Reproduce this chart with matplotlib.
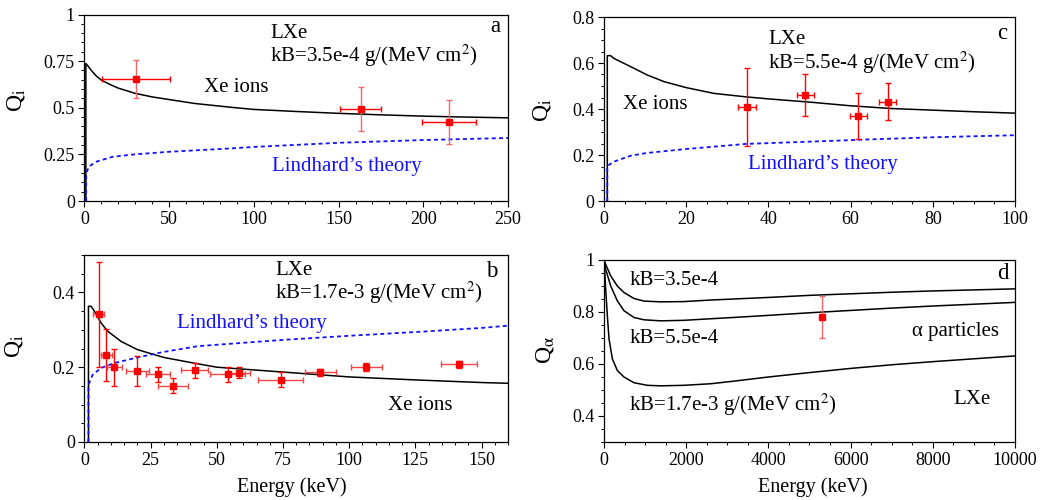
import matplotlib
matplotlib.use('Agg')
import matplotlib.pyplot as plt
from matplotlib.ticker import MultipleLocator

plt.rcParams['font.family'] = ['Liberation Serif', 'DejaVu Serif']
plt.rcParams['mathtext.fontset'] = 'stix'

# --- panel a: kB = 3.5e-4, 0-250 keV ---
a_ion_E = [0.8, 0.8, 2, 3, 5, 7, 10, 15, 20, 30, 40, 50, 65, 87, 100, 125, 150, 175, 200, 225, 250]
a_ion_Q = [0, 0.737, 0.725, 0.712, 0.69, 0.67, 0.648, 0.625, 0.605, 0.577, 0.558, 0.544, 0.523,
           0.502, 0.491, 0.48, 0.47, 0.462, 0.455, 0.45, 0.446]
a_lin_E = [1.0, 1.0, 2.6, 6.6, 16.6, 29.6, 50, 86.6, 100, 150, 200, 250]
a_lin_Q = [0, 0.148, 0.184, 0.21, 0.237, 0.25, 0.264, 0.282, 0.29, 0.312, 0.327, 0.338]
a_pts_E = [30.3, 163, 215]
a_pts_Q = [0.654, 0.493, 0.423]
a_pts_dE = [20, 12, 16]
a_pts_dQ = [0.1, 0.12, 0.12]

# --- panel c: kB = 5.5e-4, 0-100 keV ---
c_ion_E = [0.8, 0.8, 1.6, 2.4, 6.5, 10.5, 14.6, 20, 26.7, 34.4, 40, 50, 60, 70, 80, 90, 100]
c_ion_Q = [0, 0.632, 0.632, 0.62, 0.584, 0.548, 0.519, 0.493, 0.468, 0.453, 0.444, 0.43,
           0.414, 0.402, 0.395, 0.388, 0.382]
c_lin_E = [0.8, 0.8, 2.4, 6.5, 10.5, 20, 34.4, 50, 65, 80, 100]
c_lin_Q = [0, 0.152, 0.171, 0.197, 0.209, 0.226, 0.248, 0.258, 0.268, 0.277, 0.286]
c_pts_E = [34.8, 49, 61.9, 69]
c_pts_Q = [0.409, 0.46, 0.37, 0.431]
c_pts_dE = [2.2, 2.1, 2.0, 2.1]
c_pts_dQ = [0.17, 0.09, 0.1, 0.08]

# --- panel b: kB = 1.7e-3, 0-160 keV ---
b_ion_E = [1.5, 1.5, 2.5, 3.8, 6.3, 8.8, 13.8, 20, 30, 41.3, 50, 75, 100, 125, 150, 160]
b_ion_Q = [0, 0.363, 0.363, 0.349, 0.318, 0.296, 0.269, 0.247, 0.226, 0.211, 0.2, 0.187,
           0.174, 0.166, 0.159, 0.157]
b_lin_E = [1.5, 1.5, 3.1, 6.3, 11.3, 20, 30, 42.6, 50, 75, 100, 125, 150, 160]
b_lin_Q = [0, 0.153, 0.18, 0.198, 0.211, 0.226, 0.241, 0.256, 0.26, 0.273, 0.284, 0.294, 0.305, 0.311]
b_pts_E = [5.4, 8.3, 11.3, 20, 27.9, 33.5, 41.6, 54.2, 58.3, 74.1, 89.1, 106.4, 141.5]
b_pts_Q = [0.341, 0.232, 0.2, 0.19, 0.181, 0.15, 0.192, 0.181, 0.185, 0.166, 0.186, 0.201, 0.208]
b_pts_dE = [2, 2, 2.9, 4.2, 4.5, 5.6, 5, 6.6, 4.4, 8.6, 5.8, 5.9, 6.9]
b_pts_dQ = [0.14, 0.07, 0.05, 0.04, 0.02, 0.02, 0.02, 0.02, 0.015, 0.02, 0.01, 0.01, 0.009]

# --- panel d: alpha particles, three kB values ---
d_k1_E = [0, 41, 163, 324, 486, 729, 972, 1377, 1943, 2592, 3158, 4000, 5000, 6000, 7000, 8000, 9000, 10000]
d_k1_Q = [1.0, 0.983, 0.939, 0.9, 0.875, 0.852, 0.842, 0.839, 0.84, 0.846, 0.85, 0.856, 0.864,
          0.87, 0.876, 0.881, 0.885, 0.889]
d_k2_E = [0, 41, 163, 324, 486, 729, 972, 1377, 1943, 2592, 3158, 4000, 5000, 6000, 7000, 8000, 9000, 10000]
d_k2_Q = [1.0, 0.964, 0.9, 0.843, 0.805, 0.779, 0.77, 0.766, 0.768, 0.774, 0.779, 0.787, 0.797,
          0.806, 0.815, 0.823, 0.83, 0.837]
d_k3_E = [0, 41, 81, 122, 203, 324, 486, 729, 1053, 1377, 1943, 2592, 3158, 4000, 5000, 6000,
          7000, 8000, 9000, 10000]
d_k3_Q = [1.0, 0.888, 0.786, 0.696, 0.62, 0.575, 0.55, 0.528, 0.518, 0.516, 0.518, 0.524, 0.534,
          0.55, 0.567, 0.583, 0.597, 0.609, 0.62, 0.631]
d_pts_E = [5300]
d_pts_Q = [0.78]
d_pts_dQ = [0.08]

a_yticks = [0, 0.25, 0.5, 0.75, 1]
a_ylabels = ['0', '0.25', '0.5', '0.75', '1']
c_yticks = [0, 0.2, 0.4, 0.6, 0.8]
c_ylabels = ['0', '0.2', '0.4', '0.6', '0.8']
b_yticks = [0, 0.2, 0.4]
b_ylabels = ['0', '0.2', '0.4']
d_yticks = [0.4, 0.6, 0.8, 1]
d_ylabels = ['0.4', '0.6', '0.8', '1']

TXT = 15
TICK = 13
RED = '#ff0000'
PALE = '#f06a6a'
BLUE = '#1010ff'
DOT = (0, (2.2, 1.8))

fig = plt.figure(figsize=(10.47, 5), dpi=100)
ax_a = fig.add_axes([0.0807, 0.598, 0.4045, 0.373])
ax_c = fig.add_axes([0.5769, 0.598, 0.3925, 0.368])
ax_b = fig.add_axes([0.0807, 0.116, 0.4045, 0.374])
ax_d = fig.add_axes([0.5769, 0.116, 0.3925, 0.364])


def style(ax, xmaj, xmin, ymin):
    ax.xaxis.set_major_locator(MultipleLocator(xmaj))
    ax.xaxis.set_minor_locator(MultipleLocator(xmin))
    ax.yaxis.set_minor_locator(MultipleLocator(ymin))
    ax.tick_params(which='both', direction='out', top=False, right=False, labelsize=TICK)
    ax.tick_params(which='major', length=4, width=0.8, pad=3)
    ax.tick_params(which='minor', length=2, width=0.7)
    for s in ax.spines.values():
        s.set_linewidth(0.9)


def points(ax, E, Q, dE, dQ, vcol, hcol):
    ax.errorbar(E, Q, yerr=dQ, fmt='none', ecolor=vcol, elinewidth=1.0, capsize=2, zorder=4)
    if dE is not None:
        ax.errorbar(E, Q, xerr=dE, fmt='none', ecolor=hcol, elinewidth=1.0, capsize=2, zorder=4)
    ax.plot(E, Q, 's', color=RED, markersize=4, zorder=5)


def label(ax, x, y, s, **kw):
    ax.text(x, y, s, transform=ax.transAxes, fontsize=kw.pop('size', TXT), va='center', **kw)


# panel a
ax_a.plot(a_ion_E, a_ion_Q, color='black', lw=1.1)
ax_a.plot(a_lin_E, a_lin_Q, color=BLUE, lw=1.3, ls=DOT)
points(ax_a, a_pts_E, a_pts_Q, a_pts_dE, a_pts_dQ, PALE, RED)
ax_a.set_xlim(0, 250)
ax_a.set_ylim(0, 1)
ax_a.set_yticks(a_yticks, a_ylabels)
style(ax_a, 50, 10, 0.05)
ax_a.set_ylabel(r'Q$_\mathrm{i}$', fontsize=17)
ax_a.yaxis.set_label_coords(-0.136, 0.54)
label(ax_a, 0.438, 0.90, 'LXe')
label(ax_a, 0.438, 0.78, r'kB=3.5e-4 g/(MeV cm$^2$)')
label(ax_a, 0.982, 0.935, 'a', size=TXT + 1.5, ha='right')
label(ax_a, 0.282, 0.611, 'Xe ions')
label(ax_a, 0.442, 0.184, 'Lindhard\u2019s theory', color=BLUE)

# panel c
ax_c.plot(c_ion_E, c_ion_Q, color='black', lw=1.1)
ax_c.plot(c_lin_E, c_lin_Q, color=BLUE, lw=1.3, ls=DOT)
points(ax_c, c_pts_E, c_pts_Q, c_pts_dE, c_pts_dQ, RED, RED)
ax_c.set_xlim(0, 100)
ax_c.set_ylim(0, 0.8)
ax_c.set_yticks(c_yticks, c_ylabels)
style(ax_c, 20, 5, 0.05)
ax_c.set_ylabel(r'Q$_\mathrm{i}$', fontsize=17)
ax_c.yaxis.set_label_coords(-0.123, 0.495)
label(ax_c, 0.40, 0.875, 'LXe')
label(ax_c, 0.40, 0.752, r'kB=5.5e-4 g/(MeV cm$^2$)')
label(ax_c, 0.982, 0.911, 'c', size=TXT + 1.5, ha='right')
label(ax_c, 0.047, 0.527, 'Xe ions')
label(ax_c, 0.351, 0.201, 'Lindhard\u2019s theory', color=BLUE)

# panel b
ax_b.plot(b_ion_E, b_ion_Q, color='black', lw=1.1)
ax_b.plot(b_lin_E, b_lin_Q, color=BLUE, lw=1.3, ls=DOT)
points(ax_b, b_pts_E, b_pts_Q, b_pts_dE, b_pts_dQ, RED, '#f24545')
ax_b.set_xlim(0, 160)
ax_b.set_ylim(0, 0.5)
ax_b.set_yticks(b_yticks, b_ylabels)
style(ax_b, 25, 5, 0.05)
ax_b.set_ylabel(r'Q$_\mathrm{i}$', fontsize=17)
ax_b.yaxis.set_label_coords(-0.14, 0.51)
ax_b.set_xlabel('Energy (keV)', fontsize=14.5)
ax_b.xaxis.set_label_coords(0.49, -0.189)
label(ax_b, 0.45, 0.918, 'LXe')
label(ax_b, 0.45, 0.798, r'kB=1.7e-3 g/(MeV cm$^2$)')
label(ax_b, 0.975, 0.911, 'b', size=TXT + 1.5, ha='right')
label(ax_b, 0.218, 0.635, 'Lindhard\u2019s theory', color=BLUE)
label(ax_b, 0.717, 0.194, 'Xe ions')

# panel d
for E, Q in [(d_k1_E, d_k1_Q), (d_k2_E, d_k2_Q), (d_k3_E, d_k3_Q)]:
    ax_d.plot(E, Q, color='black', lw=1.1)
points(ax_d, d_pts_E, d_pts_Q, None, d_pts_dQ, PALE, PALE)
ax_d.set_xlim(0, 10000)
ax_d.set_ylim(0.3, 1.0)
ax_d.set_yticks(d_yticks, d_ylabels)
style(ax_d, 2000, 500, 0.05)
ax_d.set_ylabel(r'Q$_\mathrm{\alpha}$', fontsize=17)
ax_d.yaxis.set_label_coords(-0.117, 0.505)
ax_d.set_xlabel('Energy (keV)', fontsize=14.5)
ax_d.xaxis.set_label_coords(0.509, -0.194)
label(ax_d, 0.061, 0.89, 'kB=3.5e-4')
label(ax_d, 0.984, 0.927, 'd', size=TXT + 1.5, ha='right')
label(ax_d, 0.061, 0.566, 'kB=5.5e-4')
label(ax_d, 0.749, 0.606, '\u03b1 particles')
label(ax_d, 0.061, 0.203, r'kB=1.7e-3 g/(MeV cm$^2$)')
label(ax_d, 0.85, 0.231, 'LXe')

fig.savefig('out.png', dpi=100)
